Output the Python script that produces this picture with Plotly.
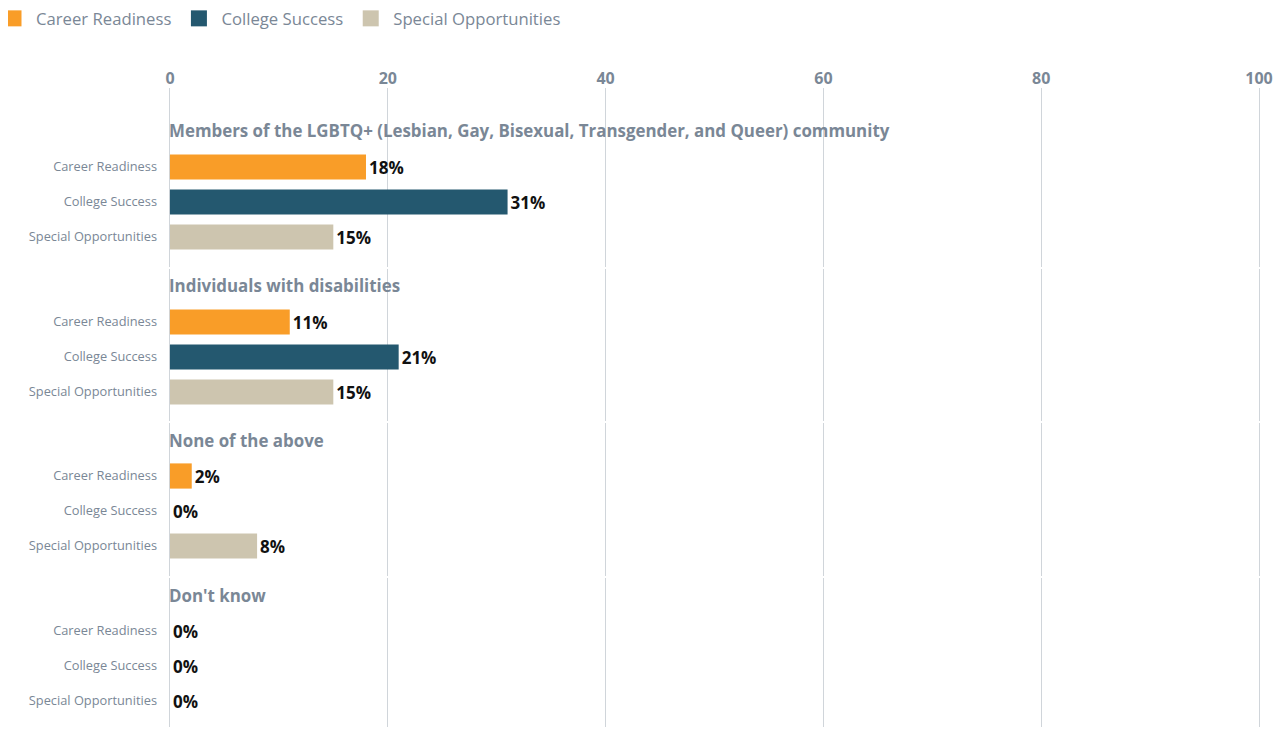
import plotly.graph_objects as go
from plotly.subplots import make_subplots

# ---- data ----
groups = [
    "Members of the LGBTQ+ (Lesbian, Gay, Bisexual, Transgender, and Queer) community",
    "Individuals with disabilities",
    "None of the above",
    "Don't know",
]
series = ["Career Readiness", "College Success", "Special Opportunities"]
career_readiness = [18, 11, 2, 0]
college_success = [31, 21, 0, 0]
special_opportunities = [15, 15, 8, 0]
x_ticks = [0, 20, 40, 60, 80, 100]

values = [career_readiness, college_success, special_opportunities]
colors = ["#F99D28", "#24586F", "#CDC5AF"]

# ---- layout constants (screen px; page body adds 8px offset) ----
OFF = 8
W, H = 1288, 730
PLOT_L, PLOT_R, PLOT_T, PLOT_B = 168, 1261, 88, 727   # screen coords
ML = PLOT_L - OFF
MR = W - (PLOT_R - OFF)
MT = PLOT_T - OFF
MB = H - (PLOT_B - OFF)
PH = H - MT - MB
PW = W - ML - MR
def py(px):
    return (H - MB - (px - OFF)) / PH
def pxx(px):
    return (px - OFF - ML) / PW

facets_px = [(88, 267), (269, 421), (423, 576), (578, 727)]
first_bar_px = [167, 322, 476, 631]
title_px = [130, 285, 440, 595]
SLOT = 35.0
X_PAD = 0.18  # keeps the 0 and 100 grid lines inside the plot area

fig = make_subplots(rows=4, cols=1, shared_xaxes=False)

gridcolor = "#D0D5DA"
labelgray = "#7A8796"

annotations = []
for f, (g, (top, bot)) in enumerate(zip(groups, facets_px)):
    row = f + 1
    h = bot - top
    r_top = 1 - (first_bar_px[f] - top) / SLOT
    r_bot = r_top + h / SLOT
    for s, name in enumerate(series):
        v = values[s][f]
        fig.add_trace(go.Bar(
            x=[v], y=[s + 1], orientation="h", name=name,
            marker=dict(color=colors[s], line=dict(width=0)),
            width=0.72, legendgroup=name, showlegend=False,
            text=[f"{v}%"], textposition="outside", cliponaxis=False,
            textfont=dict(family="Open Sans", size=17, color="#111111", weight="bold"),
            hovertemplate=f"{name}: %{{x}}%<extra></extra>",
        ), row=row, col=1)
    xname = "xaxis" if row == 1 else f"xaxis{row}"
    yname = "yaxis" if row == 1 else f"yaxis{row}"
    fig.layout[xname].update(
        domain=[0, 1], range=[-X_PAD, 100 + X_PAD], tickvals=x_ticks,
        showticklabels=(row == 1), side="top",
        tickfont=dict(family="Open Sans", size=16, color=labelgray, weight="bold"),
        showgrid=True, gridcolor=gridcolor, gridwidth=1, zeroline=False, ticks="",
        showline=False, automargin=False, fixedrange=True)
    fig.layout[yname].update(
        domain=[py(bot), py(top)], range=[r_bot, r_top],
        tickvals=[1, 2, 3], ticktext=series, showgrid=False, zeroline=False,
        ticks="", ticklabelstandoff=10, automargin=False,
        tickfont=dict(family="Open Sans", size=12.8, color=labelgray),
        fixedrange=True)
    annotations.append(dict(
        text=g, xref=f"x{row}" if row > 1 else "x", yref=f"y{row}" if row > 1 else "y",
        x=0, y=r_top + (title_px[f] - top) / SLOT,
        xanchor="left", yanchor="middle", showarrow=False, xshift=-3,
        font=dict(family="Open Sans", size=16.9, color=labelgray, weight="bold"),
    ))

# legend entries (bigger square swatches), grouped with the bars
for s, name in enumerate(series):
    fig.add_trace(go.Scatter(
        x=[None], y=[None], mode="markers", name=name, legendgroup=name,
        marker=dict(symbol="square", size=20, color=colors[s]),
        showlegend=True, hoverinfo="skip",
    ), row=1, col=1)

fig.update_layout(
    width=W, height=H,
    margin=dict(l=ML, r=MR, t=MT, b=MB, autoexpand=False),
    barmode="overlay",
    plot_bgcolor="white", paper_bgcolor="white",
    annotations=annotations,
    showlegend=True,
    legend=dict(orientation="h", x=pxx(-9), y=py(1),
                xanchor="left", yanchor="top",
                font=dict(family="Open Sans", size=16.7, color=labelgray),
                itemsizing="trace", traceorder="normal", itemwidth=35),
    font=dict(family="Open Sans"),
)

fig.write_html("out.html")
